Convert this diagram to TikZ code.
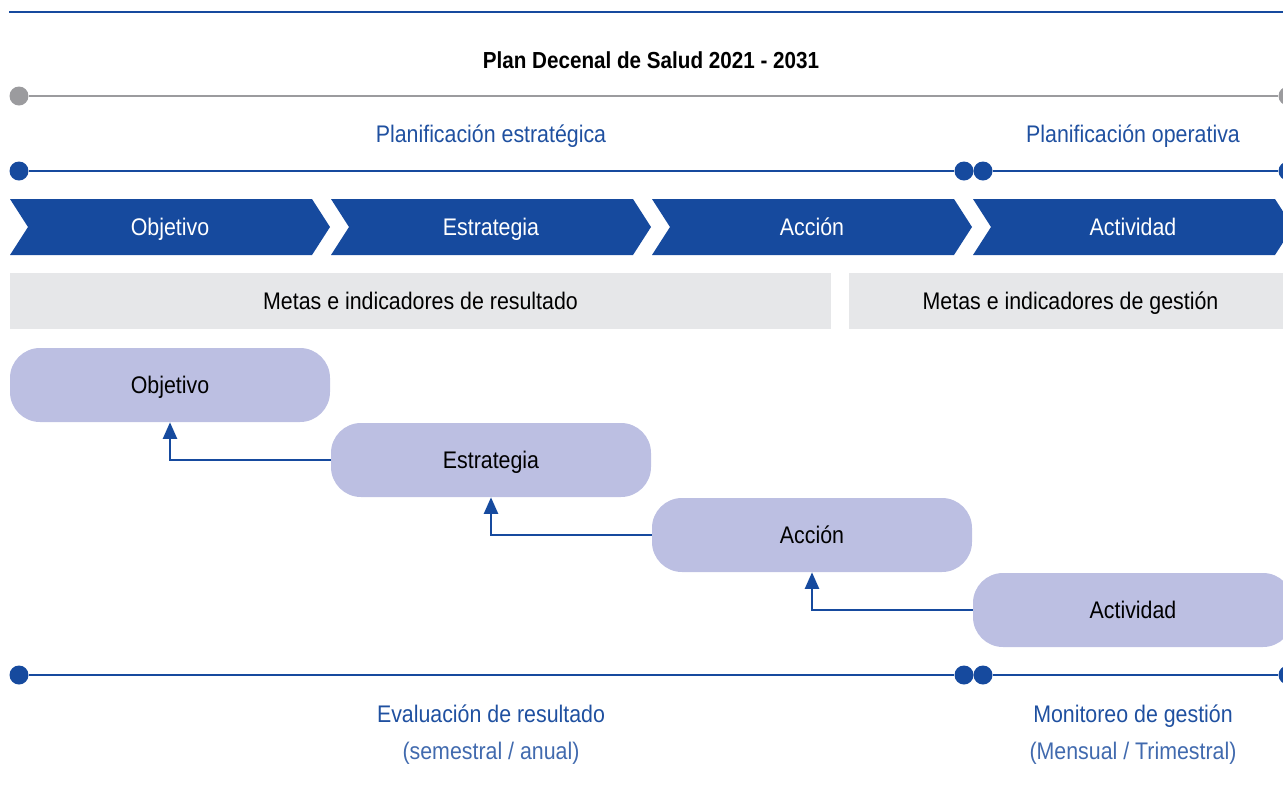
\documentclass[tikz,border=0pt]{standalone}
\usepackage{fontspec}
\setmainfont[FakeStretch=0.89]{Liberation Sans}
\usetikzlibrary{arrows.meta}

\definecolor{azul}{RGB}{22,74,158}
\definecolor{azultexto}{RGB}{31,80,160}
\definecolor{gris}{RGB}{155,155,158}
\definecolor{grisclaro}{RGB}{230,231,233}
\definecolor{lila}{RGB}{188,191,226}

\tikzset{
  punto/.style={circle,fill=azul,inner sep=0pt,minimum size=14.25pt},
  puntogris/.style={punto,fill=gris},
  linea/.style={draw=azul,line width=2.1pt},
  lineagris/.style={draw=gris,line width=2.1pt},
  texto/.style={font=\fontsize{18}{21}\selectfont,text height=12.9pt,text depth=0pt},
  etapa/.style={texto,text=white},
  franja/.style={texto,fill=grisclaro,minimum height=42pt,inner sep=0pt},
  caja/.style={texto,fill=lila,rounded corners=22.5pt,minimum width=240pt,minimum height=55.5pt,inner sep=0pt},
  rotulo/.style={texto,text=azultexto},
  nota/.style={texto,text=azultexto!85},
  flecha/.style={draw=azul,line width=1.9pt,-{Triangle[length=12.5pt,width=10.5pt]}}
}

\begin{document}
\begin{tikzpicture}[x=0.75pt,y=0.75pt,yscale=-1,xscale=1]
\useasboundingbox (0,0) rectangle (1283,794);
\clip (0,0) rectangle (1283,794);

% top rule and title
\draw[linea] (9,12) -- (1283,12);
\node[font=\bfseries\fontsize{17.4}{20}\selectfont,text height=12.5pt,text depth=0pt] (titulo) at (651,60) {Plan Decenal de Salud 2021 - 2031};

% grey timeline
\node[puntogris] (g1) at (19,96) {};
\node[puntogris] (g2) at (1288,96) {};
\draw[lineagris] (g1) -- (g2);

% planning lines
\node[rotulo] (pe) at (491,134) {Planificación estratégica};
\node[rotulo] (po) at (1133,134) {Planificación operativa};
\node[punto] (a1) at (19,171) {};
\node[punto] (a2) at (964,171) {};
\node[punto] (a3) at (983,171) {};
\node[punto] (a4) at (1288,171) {};
\draw[linea] (a1) -- (a2);
\draw[linea] (a3) -- (a4);

% chevrons
\foreach \x/\t/\n in {10/Objetivo/c1, 331/Estrategia/c2, 652/Acción/c3, 973/Actividad/c4}{
  \fill[azul] (\x,199) -- ++(302,0) -- ++(18,28) -- ++(-18,28) -- ++(-302,0) -- ++(18,-28) -- cycle;
  \node[etapa] (\n) at (\x+160,227) {\t};
}

% goals and indicators
\node[franja,minimum width=615.75pt] (mr) at (420.5,301) {Metas e indicadores de resultado};
\node[franja,minimum width=332.25pt] (mg) at (1070.5,301) {Metas e indicadores de gestión};

% staircase
\node[caja] (obj) at (170,385) {Objetivo};
\node[caja] (est) at (491,460) {Estrategia};
\node[caja] (acc) at (812,535) {Acción};
\node[caja] (act) at (1133,610) {Actividad};
\draw[flecha] (est.west) -| (obj.south);
\draw[flecha] (acc.west) -| (est.south);
\draw[flecha] (act.west) -| (acc.south);

% evaluation lines
\node[punto] (b1) at (19,675) {};
\node[punto] (b2) at (964,675) {};
\node[punto] (b3) at (983,675) {};
\node[punto] (b4) at (1288,675) {};
\draw[linea] (b1) -- (b2);
\draw[linea] (b3) -- (b4);
\node[rotulo] (ev) at (491,714) {Evaluación de resultado};
\node[nota] (evp) at (491,751) {(semestral / anual)};
\node[rotulo] (mo) at (1133,714) {Monitoreo de gestión};
\node[nota] (mop) at (1133,751) {(Mensual / Trimestral)};
\end{tikzpicture}
\end{document}
